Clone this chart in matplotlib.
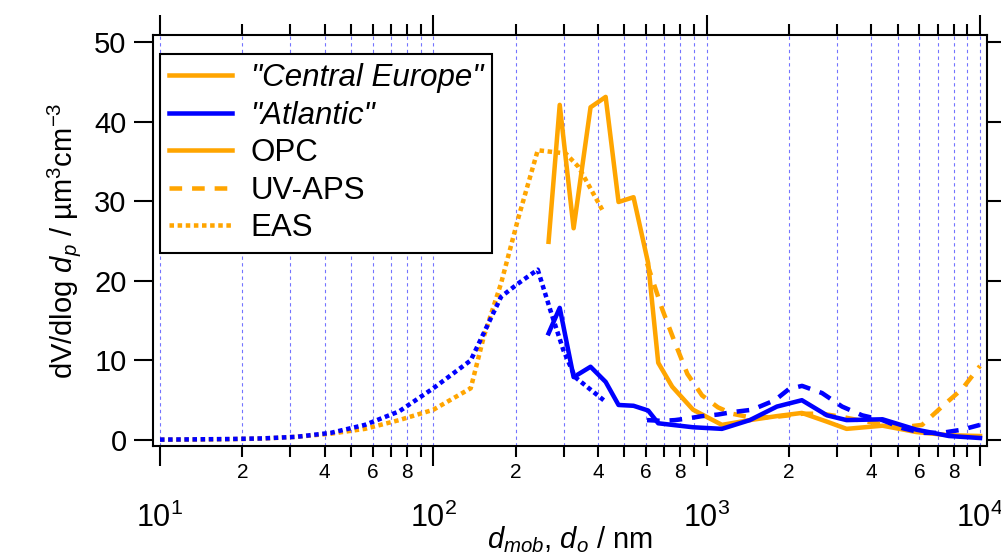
import matplotlib.pyplot as plt
import numpy as np
from matplotlib.ticker import LogLocator, FuncFormatter, MultipleLocator
from matplotlib.lines import Line2D

plt.rcParams['font.family'] = ['Liberation Sans', 'DejaVu Sans']
plt.rcParams['mathtext.fontset'] = 'custom'
plt.rcParams['mathtext.rm'] = 'Liberation Sans'
plt.rcParams['mathtext.it'] = 'Liberation Sans:italic'

ORANGE = '#FFA500'
BLUE = '#0000FF'

# EAS (dotted)
eas_x_ce = [10, 13.3, 17.8, 23.7, 31.6, 42.2, 56.2, 75, 100, 137, 153, 177, 205, 241, 305, 340, 420]
eas_y_ce = [0.03, 0.05, 0.1, 0.18, 0.4, 0.8, 1.4, 2.5, 3.8, 6.5, 13, 19.7, 28, 36.4, 36, 34.3, 28.6]
eas_x_at = [10, 13.3, 17.8, 23.7, 31.6, 42.2, 56.2, 75, 100, 137, 177, 205, 241, 268, 299, 330, 420]
eas_y_at = [0.05, 0.08, 0.12, 0.2, 0.4, 0.9, 1.9, 3.6, 6.5, 10, 18, 19.7, 21.4, 16.3, 11.3, 7.9, 5.0]

# OPC (solid)
opc_x = [264, 290, 326, 376, 427, 476, 540, 611, 665, 748, 892, 1137, 1439, 1807,
         2230, 2755, 3250, 4400, 5850, 7700, 10000]
opc_y_ce = [24.9, 42.1, 26.6, 41.8, 43.1, 29.9, 30.5, 22.2, 9.7, 6.7, 3.8, 1.9, 2.5, 3.0,
            3.4, 2.3, 1.4, 1.8, 1.0, 0.6, 0.5]
opc_y_at = [13.4, 16.6, 7.9, 9.2, 7.3, 4.4, 4.3, 3.7, 2.1, 1.9, 1.6, 1.4, 2.5, 4.2,
            5.0, 3.1, 2.5, 2.6, 1.3, 0.5, 0.25]

# UV-APS (dashed)
aps_x = [605, 690, 766, 850, 962, 1100, 1240, 1466, 1778, 2000, 2233, 2642, 3129, 3706,
         4389, 5190, 6142, 7265, 8597, 10000]
aps_y_ce = [22.2, 16.3, 12.2, 8.3, 5.6, 4.1, 3.3, 2.8, 2.9, 3.1, 3.3, 3.3, 2.9, 2.4,
            2.0, 1.6, 1.9, 4.2, 6.4, 9.3]
aps_y_at = [2.5, 2.4, 2.5, 2.7, 3.0, 3.2, 3.5, 3.8, 5.0, 6.4, 6.8, 5.9, 4.2, 3.1,
            2.5, 1.5, 0.9, 0.9, 1.3, 1.9]

lw = 3.25
dotted = (0, (1, 0.8))
dashed = (0, (2.8, 2.2))

fig = plt.figure(figsize=(10.01, 5.57), dpi=100)
ax = fig.add_axes([153 / 1001, (557 - 446) / 557, 834 / 1001, 411 / 557])

ax.plot(eas_x_ce, eas_y_ce, color=ORANGE, lw=lw, ls=dotted)
ax.plot(opc_x, opc_y_ce, color=ORANGE, lw=lw, ls='-')
ax.plot(aps_x, aps_y_ce, color=ORANGE, lw=lw, ls=dashed)
ax.plot(eas_x_at, eas_y_at, color=BLUE, lw=lw, ls=dotted)
ax.plot(opc_x, opc_y_at, color=BLUE, lw=lw, ls='-')
ax.plot(aps_x, aps_y_at, color=BLUE, lw=lw, ls=dashed)

ax.set_xscale('log')
ax.set_xlim(10 ** (1 - 7 / 273.3), 10 ** (4 + 7 / 273.3))
ax.set_ylim(-6 / 7.96, 50 + 7 / 7.96)

ax.xaxis.set_major_locator(LogLocator(base=10, numticks=10))
ax.xaxis.set_minor_locator(LogLocator(base=10, subs=np.arange(2, 10), numticks=20))
ax.xaxis.set_major_formatter(FuncFormatter(lambda v, p: r'$\mathregular{10^{%d}}$' % round(np.log10(v))))


def minor_fmt(v, p):
    m = int(round(v / 10 ** np.floor(np.log10(v) + 1e-9)))
    return str(m) if m in (2, 4, 6, 8) else ''


ax.xaxis.set_minor_formatter(FuncFormatter(minor_fmt))
ax.yaxis.set_major_locator(MultipleLocator(10))

ax.xaxis.grid(True, which='both', color='#7474ff', lw=0.8, ls=(0, (3, 3)))

for s in ax.spines.values():
    s.set_linewidth(1.5)

ax.tick_params(axis='x', which='major', direction='out', length=14.5, width=1.5,
               top=True, labelsize=22, pad=26)
ax.tick_params(axis='x', which='minor', direction='out', length=8, width=1.5,
               top=True, labelsize=15, pad=4)
ax.tick_params(axis='y', which='major', direction='out', length=14, width=1.5,
               right=True, labelsize=21, pad=5)
for t in ax.yaxis.get_major_ticks():
    t.tick2line.set_markersize(10)

ax.set_ylabel(r'dV/dlog $d_p$ / µm$^3$cm$^{-3}$', fontsize=21, labelpad=8)
ax.set_xlabel(r'$d_{mob}$, $d_o$ / nm', fontsize=21, labelpad=-7)

handles = [
    Line2D([], [], color=ORANGE, lw=lw, ls='-'),
    Line2D([], [], color=BLUE, lw=lw, ls='-'),
    Line2D([], [], color=ORANGE, lw=lw, ls='-'),
    Line2D([], [], color=ORANGE, lw=lw, ls=dashed),
    Line2D([], [], color=ORANGE, lw=lw, ls=dotted),
]
labels = ['"Central Europe"', '"Atlantic"', 'OPC', 'UV-APS', 'EAS']
leg = ax.legend(handles, labels, loc='upper left',
                bbox_to_anchor=(7 / 834, 1 - 19 / 411), borderaxespad=0,
                fontsize=22.5, fancybox=False, framealpha=1, edgecolor='black',
                handlelength=2.0, handletextpad=0.6, labelspacing=0.24, borderpad=0.3)
leg.get_frame().set_linewidth(1.5)
leg.get_texts()[0].set_style('italic')
leg.get_texts()[1].set_style('italic')

fig.savefig('out.png', dpi=100)
